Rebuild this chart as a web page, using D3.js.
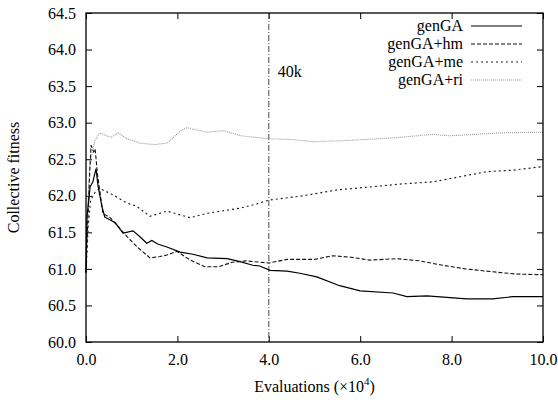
<!DOCTYPE html>
<html>
<head>
<meta charset="utf-8">
<script src="https://cdn.jsdelivr.net/npm/d3@7"></script>
<style>
  body { margin: 0; background: #fff; }
  svg text { font-family: "Liberation Serif", "Times New Roman", "DejaVu Serif", serif !important; }
</style>
</head>
<body>
<div id="chart"></div>
<script>
// data (x in units of 10^4 evaluations)
var gaX = [0, 0.02, 0.09, 0.15, 0.22, 0.26, 0.35, 0.41, 0.53, 0.64, 0.81, 1.03, 1.18, 1.33, 1.44, 1.57, 1.77, 2.06, 2.34, 2.65, 3.09, 3.37, 3.65, 3.8, 4.03, 4.4, 4.68, 5.05, 5.55, 6.0, 6.72, 7.02, 7.46, 8.33, 8.9, 9.34, 10.0];
var gaY = [60.95, 61.7, 62.12, 62.19, 62.37, 62.15, 61.85, 61.71, 61.67, 61.63, 61.49, 61.52, 61.44, 61.35, 61.39, 61.34, 61.30, 61.23, 61.20, 61.15, 61.14, 61.10, 61.05, 61.04, 60.98, 60.97, 60.94, 60.89, 60.77, 60.70, 60.67, 60.62, 60.63, 60.59, 60.59, 60.62, 60.62];

var hmX = [0, 0.03, 0.08, 0.11, 0.17, 0.2, 0.25, 0.37, 0.53, 0.9, 1.12, 1.4, 1.62, 1.77, 1.99, 2.28, 2.6, 2.9, 3.2, 3.5, 4.0, 4.4, 5.0, 5.4, 5.8, 6.2, 6.8, 7.3, 7.8, 8.3, 8.9, 9.4, 10.0];
var hmY = [60.95, 61.5, 62.3, 62.69, 62.6, 62.64, 62.3, 61.76, 61.70, 61.44, 61.30, 61.15, 61.17, 61.19, 61.24, 61.12, 61.03, 61.03, 61.09, 61.11, 61.08, 61.13, 61.13, 61.18, 61.16, 61.12, 61.14, 61.11, 61.05, 61.00, 60.96, 60.93, 60.92];

var meX = [0, 0.05, 0.1, 0.2, 0.3, 0.6, 0.9, 1.1, 1.4, 1.77, 2.28, 2.65, 3.37, 3.74, 4.0, 4.75, 5.49, 6.2, 6.87, 7.59, 8.18, 8.77, 9.34, 10.0];
var meY = [60.95, 61.6, 61.94, 62.05, 62.1, 62.01, 61.9, 61.86, 61.72, 61.79, 61.70, 61.76, 61.83, 61.89, 61.94, 62.0, 62.08, 62.12, 62.16, 62.19, 62.26, 62.33, 62.35, 62.40];

var riX = [0, 0.03, 0.08, 0.15, 0.2, 0.3, 0.45, 0.55, 0.7, 0.9, 1.18, 1.5, 1.77, 1.9, 2.05, 2.2, 2.64, 3.0, 3.4, 4.0, 4.5, 4.97, 5.5, 6.4, 6.87, 7.59, 7.96, 9.06, 10.0];
var riY = [60.95, 61.8, 62.4, 62.65, 62.76, 62.86, 62.82, 62.80, 62.86, 62.78, 62.72, 62.70, 62.72, 62.79, 62.88, 62.93, 62.87, 62.89, 62.82, 62.78, 62.77, 62.74, 62.75, 62.78, 62.80, 62.84, 62.82, 62.86, 62.87];

var seriesNames = ["genGA", "genGA+hm", "genGA+me", "genGA+ri"];
var xTicks = [0, 2, 4, 6, 8, 10];
var yTicks = [60, 60.5, 61, 61.5, 62, 62.5, 63, 63.5, 64, 64.5];
var markX = 4.0;
var markLabel = "40k";

const W = 558, H = 402;
const plot = { left: 86, right: 543, top: 13, bottom: 342 };
const serif = '"Liberation Serif", "Times New Roman", "DejaVu Serif", serif';

const svg = d3.select("#chart").append("svg")
    .attr("width", W).attr("height", H)
    .style("font-family", serif);

const x = d3.scaleLinear().domain([0, 10]).range([plot.left, plot.right]);
const y = d3.scaleLinear().domain([60, 64.5]).range([plot.bottom, plot.top]);

// axes with inward ticks, gnuplot style
const fmt = d3.format(".1f");
svg.append("g")
    .attr("transform", "translate(0," + plot.bottom + ")")
    .call(d3.axisBottom(x).tickValues(xTicks).tickFormat(fmt).tickSize(-6).tickPadding(12));
svg.append("g")
    .attr("transform", "translate(" + plot.left + ",0)")
    .call(d3.axisLeft(y).tickValues(yTicks).tickFormat(fmt).tickSize(-6).tickPadding(10));
// mirror ticks
svg.append("g")
    .attr("transform", "translate(0," + plot.top + ")")
    .call(d3.axisTop(x).tickValues(xTicks).tickFormat("").tickSize(-6));
svg.append("g")
    .attr("transform", "translate(" + plot.right + ",0)")
    .call(d3.axisRight(y).tickValues(yTicks).tickFormat("").tickSize(-6));

svg.selectAll("g").attr("font-family", null);
svg.selectAll(".domain").remove();
svg.selectAll(".tick line").attr("stroke", "#000").attr("stroke-width", 1);
svg.selectAll(".tick text")
    .style("font-family", serif).style("font-size", "16px").attr("fill", "#000");

// 40k marker
svg.append("line")
    .attr("x1", x(markX)).attr("x2", x(markX))
    .attr("y1", plot.top).attr("y2", plot.bottom)
    .attr("stroke", "#666").attr("stroke-width", 1.2)
    .attr("stroke-dasharray", "6,2,1,2");
svg.append("text")
    .attr("x", x(markX) + 9).attr("y", 77)
    .style("font-family", serif).style("font-size", "16px")
    .text(markLabel);

// lines
const styles = [
    { stroke: "#000", dash: null, width: 1.2 },
    { stroke: "#111", dash: "4,2", width: 1.1 },
    { stroke: "#222", dash: "2,3", width: 1.2 },
    { stroke: "#999", dash: "1,1", width: 1.1 }
];
const allX = [gaX, hmX, meX, riX];
const allY = [gaY, hmY, meY, riY];

const linee = d3.line()
    .x(d => x(d[0]))
    .y(d => y(d[1]));

for (var i = 3; i >= 0; i--) {
    var pts = allX[i].map((v, j) => [v, allY[i][j]]);
    svg.append("path")
        .datum(pts)
        .attr("d", linee)
        .attr("fill", "none")
        .attr("stroke", styles[i].stroke)
        .attr("stroke-width", styles[i].width)
        .attr("stroke-dasharray", styles[i].dash);
}

// frame
svg.append("rect")
    .attr("x", plot.left).attr("y", plot.top)
    .attr("width", plot.right - plot.left).attr("height", plot.bottom - plot.top)
    .attr("fill", "none").attr("stroke", "#000").attr("stroke-width", 1.3);

// legend
const legend = svg.selectAll(".legend").data(seriesNames)
    .enter().append("g").attr("class", "legend")
    .attr("transform", (d, i) => "translate(0," + (26 + i * 18) + ")");
legend.append("text")
    .attr("x", 463).attr("y", 5)
    .attr("text-anchor", "end")
    .style("font-family", serif).style("font-size", "16px")
    .text(d => d);
legend.append("line")
    .attr("x1", 471).attr("x2", 522).attr("y1", 0).attr("y2", 0)
    .attr("stroke", (d, i) => styles[i].stroke)
    .attr("stroke-width", (d, i) => styles[i].width)
    .attr("stroke-dasharray", (d, i) => styles[i].dash);

// axis titles
const xt = svg.append("text")
    .attr("x", (plot.left + plot.right) / 2).attr("y", 392)
    .attr("text-anchor", "middle")
    .style("font-family", serif).style("font-size", "16px");
xt.append("tspan").text("Evaluations (\u00d710");
xt.append("tspan").attr("dy", -7).style("font-size", "11px").text("4");
xt.append("tspan").attr("dy", 7).text(")");

svg.append("text")
    .attr("transform", "translate(19," + ((plot.top + plot.bottom) / 2) + ") rotate(-90)")
    .attr("text-anchor", "middle")
    .style("font-family", serif).style("font-size", "16px")
    .text("Collective fitness");
</script>
</body>
</html>
